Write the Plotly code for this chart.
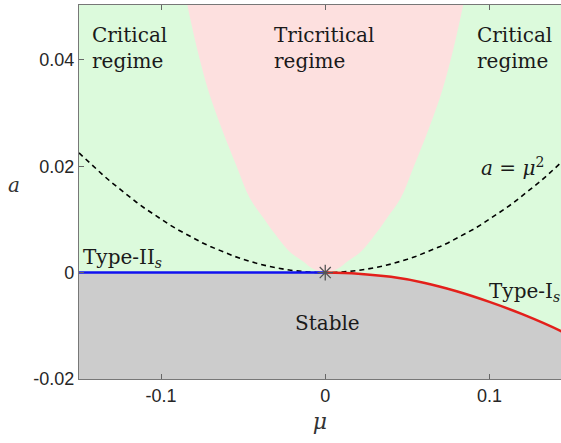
import plotly.graph_objects as go

# Data
mu_ticks = [-0.1, 0, 0.1]
mu_tick_labels = ["-0.1", "0", "0.1"]
a_ticks = [-0.02, 0, 0.02, 0.04]
a_tick_labels = ["-0.02", "0", "0.02", "0.04"]

# Tricritical (pink) region boundary: half width |mu| at levels a
pink_a = [0, 0.0005, 0.001, 0.002, 0.004, 0.007, 0.010, 0.014, 0.020, 0.027, 0.034, 0.042, 0.0503, 0.06]
pink_mu = [0, 0.006, 0.009, 0.013, 0.022, 0.030, 0.037, 0.046, 0.054, 0.063, 0.071, 0.078, 0.084, 0.090]

# Type-I_s boundary (red) for mu > 0
red_mu = [0, 0.02, 0.04, 0.06, 0.08, 0.10, 0.12, 0.1436, 0.15]
red_a = [0, -0.0002, -0.0008, -0.0019, -0.0035, -0.0055, -0.0078, -0.0110, -0.0121]

# Type-II_s boundary (blue) for mu < 0
blue_mu = [-0.15, 0]
blue_a = [0, 0]

# Dashed curve a = mu^2
dash_mu = [i * 0.005 - 0.15 for i in range(61)]
dash_a = [m * m for m in dash_mu]

x_range = [-0.15, 0.1436]
y_range = [-0.02, 0.0503]

GREEN = "#dcfadc"
PINK = "#fde0df"
GRAY = "#cccccc"

fig = go.Figure()

px = [-m for m in reversed(pink_mu)] + pink_mu
py = list(reversed(pink_a)) + pink_a
fig.add_trace(go.Scatter(x=px, y=py, fill="toself", fillcolor=PINK, mode="none",
                         line=dict(shape="spline"), hoverinfo="skip", showlegend=False))

gx = blue_mu + red_mu + [red_mu[-1], blue_mu[0]]
gy = blue_a + red_a + [y_range[0], y_range[0]]
fig.add_trace(go.Scatter(x=gx, y=gy, fill="toself", fillcolor=GRAY, mode="none",
                         hoverinfo="skip", showlegend=False))

fig.add_trace(go.Scatter(x=dash_mu, y=dash_a, mode="lines",
                         line=dict(color="black", width=1.6, dash="5px,4px"),
                         hoverinfo="skip", showlegend=False))

fig.add_trace(go.Scatter(x=blue_mu, y=blue_a, mode="lines",
                         line=dict(color="#1010f0", width=2.5), showlegend=False))
fig.add_trace(go.Scatter(x=red_mu, y=red_a, mode="lines",
                         line=dict(color="#e3201b", width=2.5, shape="spline"), showlegend=False))

fig.add_trace(go.Scatter(x=[0], y=[0], mode="markers",
                         marker=dict(symbol="asterisk-open", size=13, color="#555555",
                                     line=dict(color="#555555", width=1.3)),
                         showlegend=False))

serif = "DejaVu Serif"
txt = dict(family=serif, size=20, color="#1a1a1a")

def mu_of(px_):
    return (px_ - 325.5) / 1640.0

def a_of(py_):
    return (272.7 - py_) / 5325.0

ann = [
    ("Critical<br>regime", 90, 21, "top"),
    ("Tricritical<br>regime", 272, 21, "top"),
    ("Critical<br>regime", 475, 21, "top"),
    ("<i>a</i> = <i>μ</i><sup>2</sup>", 479, 167, "middle"),
    ("Type-II<sub><i>s</i></sub>", 81, 258, "middle"),
    ("Type-I<sub><i>s</i></sub>", 487, 292, "middle"),
    ("Stable", 293, 323, "middle"),
]
for t, x_, y_, ya in ann:
    fig.add_annotation(x=mu_of(x_), y=a_of(y_), text=t, showarrow=False,
                       xanchor="left", yanchor=ya, align="left", font=txt)

fig.add_annotation(x=-0.135, y=a_of(185), xref="paper", yref="y", text="<i>a</i>",
                   showarrow=False, font=dict(family=serif, size=20, color="#333333"),
                   xanchor="center", yanchor="middle")
fig.update_layout(
    width=561, height=443,
    margin=dict(l=79, r=0, t=5, b=64),
    paper_bgcolor="white",
    plot_bgcolor=GREEN,
    xaxis=dict(range=x_range, tickvals=mu_ticks, ticktext=mu_tick_labels,
               ticks="inside", ticklen=5, tickcolor="#666666", showline=True,
               linecolor="#777777", linewidth=1.2, mirror="ticks", showgrid=False,
               zeroline=False, tickfont=dict(family="Liberation Sans", size=18, color="#262626"),
               title=dict(text="<i>μ</i>", font=dict(family=serif, size=22, color="#333333"),
                          standoff=8)),
    yaxis=dict(range=y_range, tickvals=a_ticks, ticktext=a_tick_labels,
               ticks="inside", ticklen=5, tickcolor="#666666", showline=True,
               linecolor="#777777", linewidth=1.2, showgrid=False, zeroline=False,
               tickfont=dict(family="Liberation Sans", size=18, color="#262626")),
)

fig.write_html("out.html")
